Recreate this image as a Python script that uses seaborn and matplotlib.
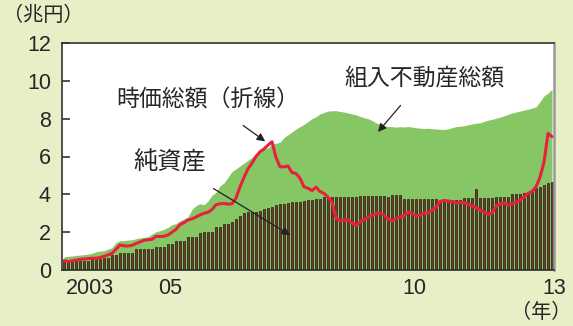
import numpy as np
import pandas as pd
import matplotlib
matplotlib.use("Agg")
import matplotlib.pyplot as plt
import seaborn as sns

# Monthly series, trillion yen
net_assets = [
    0.45, 0.48, 0.48, 0.48, 0.48, 0.48, 0.48, 0.56, 0.56, 0.56,
    0.65, 0.65, 0.78, 0.78, 0.92, 0.92, 0.92, 0.92, 1.09, 1.09,
    1.09, 1.09, 1.09, 1.23, 1.23, 1.23, 1.36, 1.36, 1.53, 1.53,
    1.53, 1.73, 1.73, 1.73, 1.97, 2.00, 2.02, 2.02, 2.29, 2.29,
    2.41, 2.41, 2.52, 2.68, 2.88, 3.00, 3.05, 3.05, 3.05, 3.13,
    3.20, 3.26, 3.35, 3.43, 3.49, 3.50, 3.52, 3.59, 3.59, 3.59,
    3.65, 3.68, 3.70, 3.75, 3.75, 3.84, 3.85, 3.86, 3.86, 3.87,
    3.87, 3.88, 3.88, 3.88, 3.89, 3.89, 3.90, 3.90, 3.90, 3.90,
    3.90, 3.88, 3.96, 3.96, 3.96, 3.74, 3.74, 3.74, 3.77, 3.77,
    3.77, 3.77, 3.77, 3.77, 3.70, 3.70, 3.70, 3.70, 3.70, 3.70,
    3.79, 3.79, 3.79, 4.26, 3.79, 3.79, 3.79, 3.79, 3.88, 3.88,
    3.88, 3.88, 4.00, 4.00, 4.00, 4.05, 4.10, 4.23, 4.35, 4.40,
    4.49, 4.58, 4.63,
]
total_property = [
    0.70, 0.72, 0.74, 0.77, 0.79, 0.81, 0.84, 0.88, 0.97, 1.00,
    1.02, 1.10, 1.18, 1.45, 1.55, 1.56, 1.58, 1.60, 1.65, 1.70,
    1.72, 1.76, 1.90, 2.02, 2.08, 2.15, 2.25, 2.40, 2.45, 2.60,
    2.70, 2.80, 3.20, 3.40, 3.50, 3.45, 3.65, 3.95, 4.10, 4.45,
    4.60, 4.90, 5.20, 5.35, 5.50, 5.65, 5.80, 5.95, 6.15, 6.30,
    6.40, 6.45, 6.65, 6.70, 6.75, 7.00, 7.15, 7.30, 7.45, 7.58,
    7.70, 7.85, 8.00, 8.10, 8.25, 8.33, 8.40, 8.42, 8.42, 8.38,
    8.35, 8.30, 8.25, 8.20, 8.12, 8.05, 8.00, 7.90, 7.78, 7.70,
    7.62, 7.58, 7.58, 7.55, 7.58, 7.56, 7.58, 7.56, 7.52, 7.50,
    7.48, 7.49, 7.47, 7.45, 7.44, 7.43, 7.46, 7.52, 7.58, 7.60,
    7.62, 7.68, 7.72, 7.76, 7.78, 7.85, 7.92, 7.96, 8.02, 8.08,
    8.15, 8.22, 8.30, 8.35, 8.40, 8.45, 8.50, 8.56, 8.62, 8.90,
    9.20, 9.35, 9.55,
]
market_cap = [
    0.50, 0.44, 0.48, 0.52, 0.56, 0.58, 0.60, 0.62, 0.62, 0.66,
    0.72, 0.80, 0.88, 1.10, 1.32, 1.28, 1.27, 1.30, 1.40, 1.48,
    1.57, 1.60, 1.62, 1.78, 1.77, 1.78, 1.85, 2.00, 2.15, 2.40,
    2.50, 2.65, 2.70, 2.80, 2.91, 3.00, 3.05, 3.20, 3.45, 3.50,
    3.52, 3.48, 3.50, 3.80, 4.40, 4.90, 5.35, 5.65, 6.00, 6.25,
    6.40, 6.60, 6.78, 5.95, 5.46, 5.45, 5.50, 5.15, 5.10, 4.85,
    4.40, 4.32, 4.20, 4.38, 4.15, 4.05, 3.85, 3.60, 2.75, 2.60,
    2.62, 2.65, 2.50, 2.35, 2.55, 2.65, 2.80, 2.90, 2.98, 3.00,
    2.92, 2.70, 2.60, 2.72, 2.80, 2.85, 3.05, 3.00, 2.85, 2.90,
    3.00, 3.00, 3.15, 3.30, 3.62, 3.68, 3.65, 3.62, 3.55, 3.58,
    3.55, 3.48, 3.40, 3.30, 3.18, 3.05, 2.95, 3.00, 3.35, 3.50,
    3.55, 3.42, 3.50, 3.58, 3.70, 3.85, 4.05, 4.15, 4.40, 4.90,
    5.70, 7.22, 7.05,
]
year_labels = ["2003", "05", "10", "13"]
year_positions = [6.5, 26.5, 87.5, 122.5]
y_ticks = [0, 2, 4, 6, 8, 10, 12]

df = pd.DataFrame({
    "month": np.arange(len(net_assets)),
    "net": net_assets,
    "total": total_property,
    "cap": market_cap,
})

sns.set_theme(style="white")
plt.rcParams["font.family"] = ["Liberation Sans", "Noto Sans CJK JP", "DejaVu Sans"]
jp = ["Noto Sans CJK JP", "DejaVu Sans"]

bg = "#e6efc6"
green = "#86c664"
red = "#e8203e"
bar_fill = "#6e3c2e"

# plot area sized so each month gets a whole number of pixels
W, H = 573, 326
fig = plt.figure(figsize=(W / 100, H / 100), dpi=100, facecolor=bg)
ax = fig.add_axes([62 / W, 1 - 270 / H, 4 * len(df) / W, 227 / H])
ax.set_facecolor("white")

ax.fill_between(df["month"], 0, df["total"], color=green, linewidth=0, zorder=1)
sns.barplot(data=df, x="month", y="net", color=bar_fill, saturation=1,
            width=0.74, edgecolor="#2a1812", linewidth=0.5, errorbar=None,
            ax=ax, zorder=2)
sns.lineplot(data=df, x="month", y="cap", color=red, linewidth=2.2, ax=ax, zorder=3)

ax.set_xlim(-0.5, len(df) - 0.5)
ax.set_ylim(0, 12)
ax.set_yticks(y_ticks)
ax.set_xticks(year_positions)
ax.set_xticklabels(year_labels)
ax.set_xlabel("")
ax.set_ylabel("")
ax.tick_params(axis="y", direction="in", length=6, width=1.2, color="#333333",
               labelsize=15.5, pad=8, left=True)
ax.tick_params(axis="x", length=0, labelsize=15.5, pad=6)

for side in ["left", "bottom", "top"]:
    ax.spines[side].set_color("#333333")
    ax.spines[side].set_linewidth(1.2)
ax.spines["right"].set_color("#999999")
ax.spines["right"].set_linewidth(1.8)

arrow = dict(arrowstyle="-|>", color="#222222", lw=0.9, mutation_scale=12)
ax.annotate("時価総額（折線）", xy=(50.3, 6.8), xytext=(36, 8.98),
            fontsize=16.5, family=jp, ha="center", va="center",
            arrowprops=dict(arrow, shrinkA=13, shrinkB=0))
ax.annotate("純資産", xy=(56.5, 1.85), xytext=(26.5, 5.7),
            fontsize=17.5, family=jp, ha="center", va="center",
            arrowprops=dict(arrow, shrinkA=14, shrinkB=0))
ax.annotate("組入不動産総額", xy=(78.5, 7.3), xytext=(90, 10.15),
            fontsize=16.5, family=jp, ha="center", va="center",
            arrowprops=dict(arrow, shrinkA=12, shrinkB=0))

fig.text(0.005, 0.953, "（兆円）", fontsize=14.5, family=jp, ha="left", va="center")
fig.text(0.998, 0.042, "（年）", fontsize=14.5, family=jp, ha="right", va="center")

fig.savefig("out.png", dpi=100, facecolor=bg)
